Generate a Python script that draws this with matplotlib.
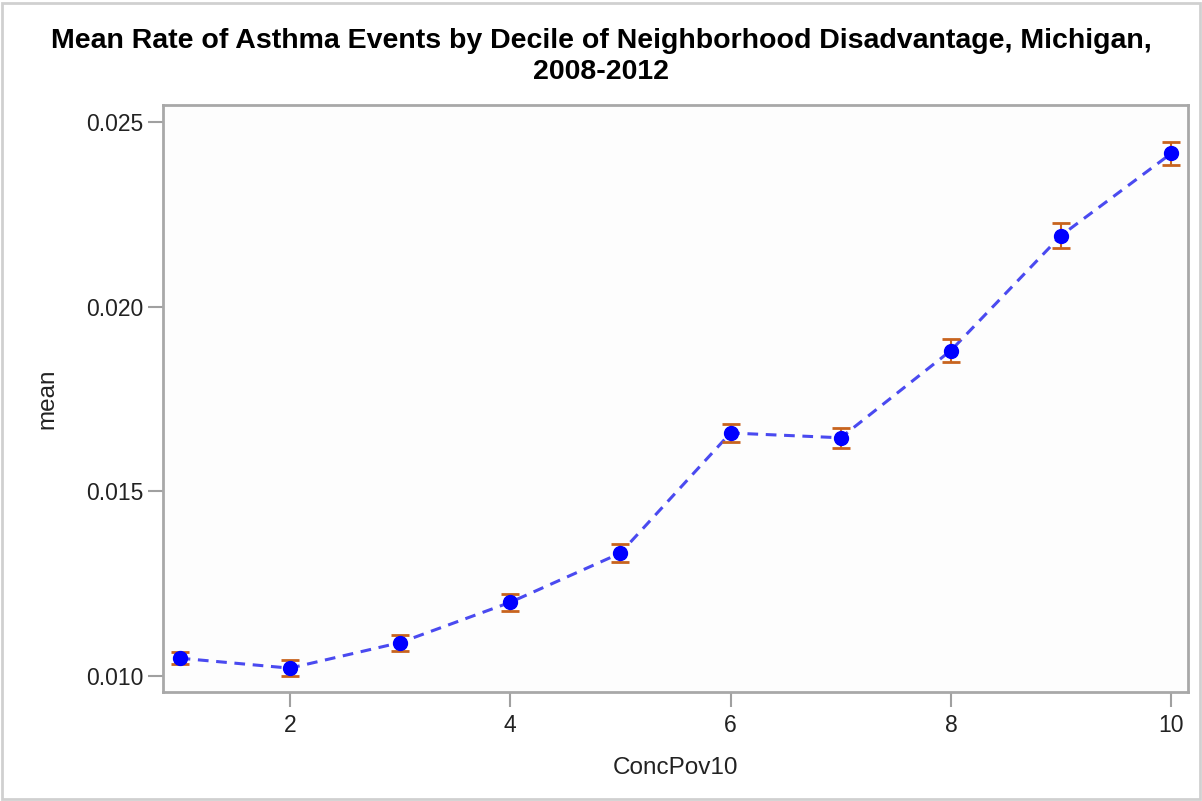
import matplotlib
matplotlib.use("Agg")
import matplotlib.pyplot as plt
import numpy as np

plt.rcParams['font.family'] = ['Liberation Sans', 'DejaVu Sans']

# decile of concentrated poverty and mean asthma event rate
deciles = [1, 2, 3, 4, 5, 6, 7, 8, 9, 10]
means = [0.01049, 0.01022, 0.01091, 0.01200, 0.01333, 0.01658, 0.01645, 0.01881, 0.02192, 0.02414]
errs = [0.00017, 0.00022, 0.00022, 0.00023, 0.00025, 0.00024, 0.00027, 0.00030, 0.00033, 0.00032]

fig = plt.figure(figsize=(12.02, 8.01), dpi=100)
fig.patch.set_facecolor('white')
ax = fig.add_axes([163 / 1202, 1 - 692 / 801, (1188 - 163) / 1202, (692 - 105) / 801])
ax.set_facecolor('#fdfdfd')

# dashed connecting line, then error bars and markers on top
ax.plot(deciles, means, linestyle=(0, (3.5, 2.5)), color='#4a4af0', linewidth=2.2, zorder=2)
ax.errorbar(deciles, means, yerr=errs, fmt='none', ecolor='#c8641e',
            elinewidth=1.5, capsize=6.5, capthick=2, zorder=3)
ax.plot(deciles, means, 'o', color='#0000ff', markersize=10, zorder=4)

ax.set_xlim(0.849, 10.152)
ax.set_ylim(0.009575, 0.02545)
ax.set_xticks([2, 4, 6, 8, 10])
ax.set_yticks([0.010, 0.015, 0.020, 0.025])
ax.set_yticklabels(['0.010', '0.015', '0.020', '0.025'])

for s in ax.spines.values():
    s.set_color('#a8a8a8')
    s.set_linewidth(2)
ax.tick_params(axis='both', colors='#a0a0a0', labelcolor='#222222', length=11, width=1.5,
               labelsize=16.5)
ax.tick_params(axis='y', pad=3)
ax.tick_params(axis='x', pad=5)

ax.set_xlabel('ConcPov10', fontsize=17.5, color='#222222', labelpad=14)
ax.set_ylabel('mean', fontsize=17.5, color='#222222', labelpad=20)

fig.text(0.5, 1 - 41 / 801, 'Mean Rate of Asthma Events by Decile of Neighborhood Disadvantage, Michigan,',
         ha='center', va='center', fontsize=20.5, fontweight='bold')
fig.text(0.5, 1 - 72 / 801, '2008-2012', ha='center', va='center', fontsize=20.5, fontweight='bold')

# light frame around the whole graphic
fig.patches.append(plt.Rectangle((0.002, 0.002), 0.996, 0.994, transform=fig.transFigure,
                                 fill=False, edgecolor='#d0d0d0', linewidth=2))

fig.savefig('out.png', dpi=100)
